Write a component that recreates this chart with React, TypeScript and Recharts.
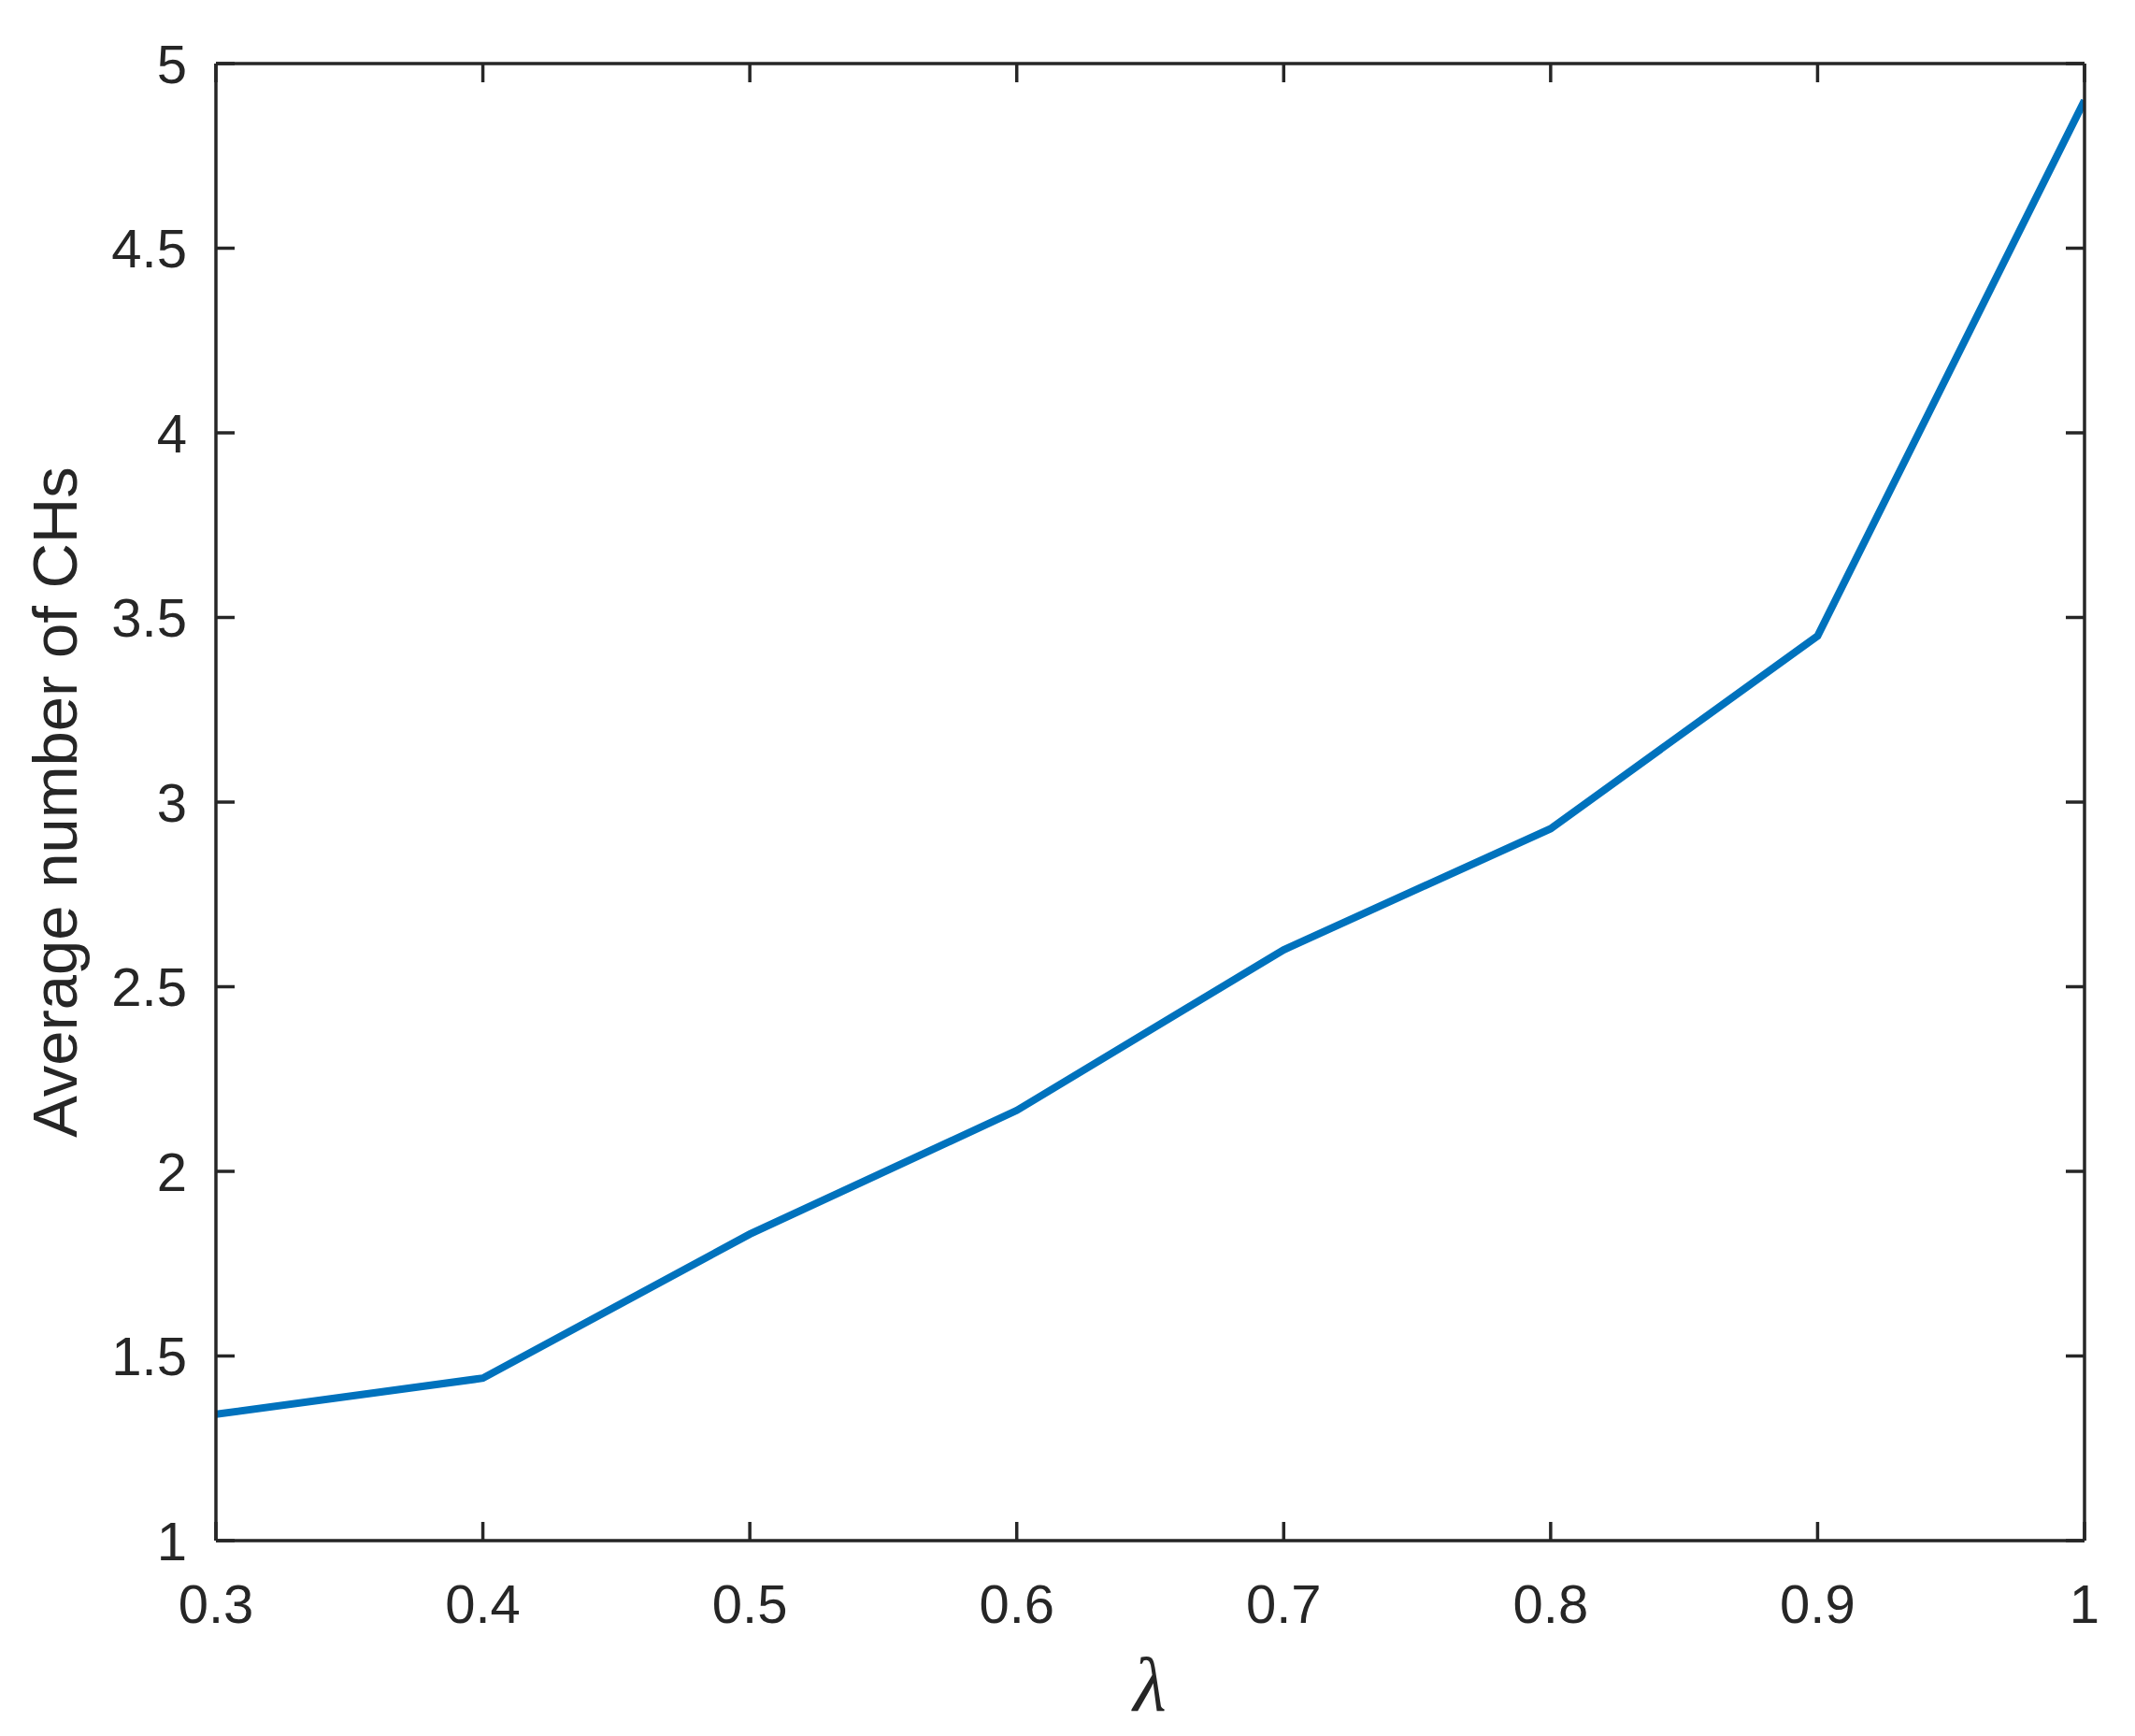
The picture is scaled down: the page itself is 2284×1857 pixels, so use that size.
import React from "react";
import { LineChart, Line, XAxis, YAxis, Label } from "recharts";

// lambda values on the x axis
const lambdas = [0.3, 0.4, 0.5, 0.6, 0.7, 0.8, 0.9, 1];
// average number of cluster heads
const avgCHs = [1.342, 1.44, 1.83, 2.165, 2.6, 2.928, 3.45, 4.9];

const xTicks = [0.3, 0.4, 0.5, 0.6, 0.7, 0.8, 0.9, 1];
const yTicks = [1, 1.5, 2, 2.5, 3, 3.5, 4, 4.5, 5];

const data = lambdas.map((l, i) => ({ lambda: l, chs: avgCHs[i] }));

const INK = "#262626";
const FONT = "'Liberation Sans', Arial, Helvetica, sans-serif";
const TICK_LEN = 20;
const X_GAP = 47;
const Y_GAP = 31;
const FRAME_W = 3.5;

// MATLAB style ticks: marks point inward, labels outside
const BottomTick = (props: any) => {
  const { x, y, payload } = props;
  return (
    <g>
      <line x1={x} x2={x} y1={y - X_GAP} y2={y - X_GAP - TICK_LEN} stroke={INK} strokeWidth={FRAME_W} />
      <text x={x} y={y} dy="0.71em" textAnchor="middle" fill={INK} fontSize={58} fontFamily={FONT}>
        {String(payload.value)}
      </text>
    </g>
  );
};

const TopTick = (props: any) => {
  const { x, y } = props;
  return <line x1={x} x2={x} y1={y} y2={y + TICK_LEN} stroke={INK} strokeWidth={FRAME_W} />;
};

const LeftTick = (props: any) => {
  const { x, y, payload } = props;
  return (
    <g>
      <line x1={x + Y_GAP} x2={x + Y_GAP + TICK_LEN} y1={y} y2={y} stroke={INK} strokeWidth={FRAME_W} />
      <text x={x} y={y} dy="0.355em" textAnchor="end" fill={INK} fontSize={58} fontFamily={FONT}>
        {String(payload.value)}
      </text>
    </g>
  );
};

const RightTick = (props: any) => {
  const { x, y } = props;
  return <line x1={x} x2={x - TICK_LEN} y1={y} y2={y} stroke={INK} strokeWidth={FRAME_W} />;
};

export default function App() {
  return (
    <div style={{ position: "absolute", left: 0, top: 0, background: "#fff" }}>
      <LineChart
        width={2284}
        height={1857}
        data={data}
        margin={{ top: 67, right: 53, bottom: 208, left: 230 }}
      >
        <XAxis
          xAxisId="bottom"
          dataKey="lambda"
          type="number"
          domain={[0.3, 1]}
          ticks={xTicks}
          height={1}
          allowDataOverflow
          stroke={INK}
          strokeWidth={FRAME_W}
          tickSize={0}
          tickMargin={X_GAP}
          tickLine={false}
          tick={<BottomTick />}
        >
          <Label
            content={() => (
              <text
                x={1230}
                y={1830}
                textAnchor="middle"
                fill={INK}
                fontSize={82}
                fontStyle="italic"
                fontFamily="'Liberation Serif', 'DejaVu Serif', serif"
              >
                λ
              </text>
            )}
          />
        </XAxis>
        <XAxis
          xAxisId="top"
          orientation="top"
          dataKey="lambda"
          type="number"
          domain={[0.3, 1]}
          ticks={xTicks}
          height={1}
          allowDataOverflow
          stroke={INK}
          strokeWidth={FRAME_W}
          tickSize={0}
          tickMargin={0}
          tickLine={false}
          tick={<TopTick />}
        />
        <YAxis
          yAxisId="left"
          type="number"
          domain={[1, 5]}
          ticks={yTicks}
          width={1}
          allowDataOverflow
          stroke={INK}
          strokeWidth={FRAME_W}
          tickSize={0}
          tickMargin={Y_GAP}
          tickLine={false}
          tick={<LeftTick />}
        >
          <Label
            content={() => (
              <text
                x={82}
                y={858}
                transform="rotate(-90, 82, 858)"
                textAnchor="middle"
                fill={INK}
                fontSize={67}
                fontFamily={FONT}
              >
                Average number of CHs
              </text>
            )}
          />
        </YAxis>
        <YAxis
          yAxisId="right"
          orientation="right"
          type="number"
          domain={[1, 5]}
          ticks={yTicks}
          width={1}
          allowDataOverflow
          stroke={INK}
          strokeWidth={FRAME_W}
          tickSize={0}
          tickMargin={0}
          tickLine={false}
          tick={<RightTick />}
        />
        <Line
          xAxisId="bottom"
          yAxisId="left"
          type="linear"
          dataKey="chs"
          stroke="#0072BD"
          strokeWidth={8}
          dot={false}
          activeDot={false}
          isAnimationActive={false}
        />
      </LineChart>
    </div>
  );
}
